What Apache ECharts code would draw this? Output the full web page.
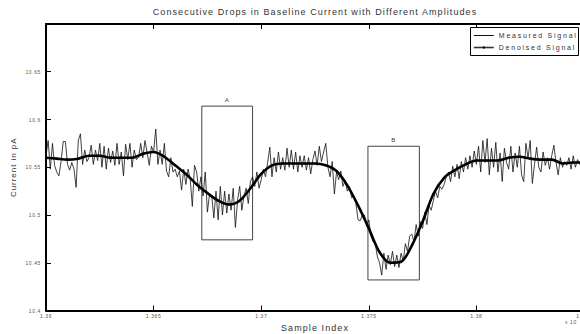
<!DOCTYPE html>
<html>
<head>
<meta charset="utf-8">
<script src="https://cdn.jsdelivr.net/npm/echarts@6.0.0/dist/echarts.min.js"></script>
<style>
  html, body { margin: 0; padding: 0; background: #fff; }
  #chart { width: 580px; height: 334px; }
  /* matlab-like spaced lettering */
  #chart text { letter-spacing: 0.12em; }
  /* legend text (7px) is spread wider in the original */
  #chart text[style*="7px"] { letter-spacing: 0.25em; }
</style>
</head>
<body>
<div id="chart"></div>
<script>
// sample index runs from 13600 to 13850 (shown as x 10^4)
var sampleStart = 13600;
var sampleEnd = 13850;
var xTickStep = 50;

// measured signal, one value per sample
var measured = [
  10.562, 10.578, 10.548, 10.575, 10.552,
  10.545, 10.541, 10.556, 10.577, 10.577,
  10.553, 10.547, 10.555, 10.548, 10.529,
  10.578, 10.585, 10.553, 10.568, 10.556,
  10.560, 10.573, 10.553, 10.568, 10.557,
  10.575, 10.550, 10.572, 10.548, 10.570,
  10.555, 10.567, 10.552, 10.575, 10.553,
  10.566, 10.541, 10.574, 10.558, 10.575,
  10.550, 10.568, 10.558, 10.560, 10.575,
  10.560, 10.578, 10.565, 10.552, 10.572,
  10.566, 10.590, 10.553, 10.568, 10.553,
  10.575, 10.546, 10.540, 10.560, 10.545,
  10.548, 10.540, 10.546, 10.526, 10.548,
  10.532, 10.548, 10.538, 10.509, 10.552,
  10.545, 10.525, 10.540, 10.520, 10.545,
  10.503, 10.522, 10.520, 10.497, 10.525,
  10.495, 10.530, 10.500, 10.525, 10.502,
  10.522, 10.505, 10.528, 10.487, 10.515,
  10.530, 10.505, 10.520, 10.528, 10.512,
  10.535, 10.540, 10.530, 10.545, 10.528,
  10.537, 10.548, 10.540, 10.555, 10.571,
  10.540, 10.560, 10.545, 10.566, 10.548,
  10.560, 10.547, 10.570, 10.550, 10.568,
  10.548, 10.566, 10.545, 10.562, 10.550,
  10.562, 10.547, 10.560, 10.543, 10.558,
  10.567, 10.552, 10.572, 10.556, 10.566,
  10.575, 10.550, 10.540, 10.556, 10.522,
  10.545, 10.537, 10.546, 10.530, 10.536,
  10.525, 10.530, 10.518, 10.520, 10.512,
  10.495, 10.494, 10.500, 10.500, 10.488,
  10.495, 10.478, 10.472, 10.470, 10.456,
  10.450, 10.437, 10.460, 10.443, 10.458,
  10.448, 10.462, 10.446, 10.458, 10.445,
  10.460, 10.452, 10.470, 10.462, 10.478,
  10.480, 10.472, 10.490, 10.478, 10.493,
  10.486, 10.503, 10.490, 10.510, 10.505,
  10.515, 10.525, 10.518, 10.530, 10.527,
  10.532, 10.540, 10.545, 10.535, 10.551,
  10.540, 10.553, 10.538, 10.556, 10.545,
  10.560, 10.548, 10.562, 10.550, 10.567,
  10.553, 10.572, 10.545, 10.578, 10.555,
  10.580, 10.542, 10.570, 10.550, 10.576,
  10.545, 10.565, 10.535, 10.570, 10.555,
  10.548, 10.572, 10.545, 10.565, 10.550,
  10.572, 10.542, 10.535, 10.575, 10.560,
  10.578, 10.533, 10.553, 10.571, 10.550,
  10.545, 10.566, 10.552, 10.560, 10.548,
  10.562, 10.573, 10.555, 10.542, 10.560,
  10.550, 10.556, 10.552, 10.560, 10.548,
  10.562, 10.550, 10.558, 10.553, 10.557,
  10.555
];

// denoised signal, read every 5 samples
var denoisedStep = 5;
var denoised = [
  10.560, 10.559, 10.558, 10.559, 10.562, 10.562, 10.560, 10.560, 10.560, 10.564,
  10.566, 10.561, 10.552, 10.543, 10.532, 10.523, 10.515, 10.511, 10.515, 10.528,
  10.543, 10.552, 10.554, 10.554, 10.554, 10.554, 10.552, 10.546, 10.531, 10.510,
  10.486, 10.461, 10.450, 10.451, 10.468, 10.493, 10.522, 10.539, 10.547, 10.553,
  10.557, 10.557, 10.557, 10.560, 10.561, 10.559, 10.558, 10.558, 10.554, 10.555,
  10.555
];

// boxes: [name, xFrom, xTo, yLow, yHigh]
var boxA = ['A', 13672.4, 13696, 10.474, 10.614];
var boxB = ['B', 13749.6, 13773.5, 10.432, 10.572];

var yMin = 10.4;
var yMax = 10.7;
var yStep = 0.05;

var measuredData = measured.map(function (v, i) {
  return [sampleStart + i, v];
});
var denoisedData = denoised.map(function (v, i) {
  return [sampleStart + i * denoisedStep, v];
});

function boxArea(b) {
  return [
    { name: b[0], xAxis: b[1], yAxis: b[4] },
    { xAxis: b[2], yAxis: b[3] },
  ];
}

var fontFam = 'Liberation Sans, Arial, sans-serif';

var option = {
  animation: false,
  backgroundColor: '#fff',
  title: {
    text: 'Consecutive Drops in Baseline Current with Different Amplitudes',
    left: 315,
    top: 7,
    textAlign: 'center',
    padding: 0,
    textStyle: {
      fontSize: 9,
      fontWeight: 'normal',
      color: '#333',
      fontFamily: fontFam,
    },
  },
  legend: {
    left: 473,
    top: 32,
    orient: 'vertical',
    itemWidth: 20,
    itemHeight: 3,
    itemGap: 5,
    padding: 0,
    z: 5,
    textStyle: {
      fontSize: 7,
      color: '#333',
      fontFamily: fontFam,
    },
    data: [
      {
        name: 'Measured Signal',
        itemStyle: { opacity: 0 },
        lineStyle: { width: 1, color: '#111' },
      },
      {
        name: 'Denoised Signal',
        itemStyle: { color: '#000' },
        lineStyle: { width: 1.6, color: '#333' },
      },
    ],
  },
  grid: {
    left: 46,
    top: 24,
    width: 538,
    bottom: 23.5,
    containLabel: false,
    outerBoundsMode: 'none',
  },
  xAxis: [
    {
      type: 'value',
      min: sampleStart,
      max: sampleEnd,
      interval: xTickStep,
      name: 'Sample Index',
      nameLocation: 'middle',
      nameGap: 12,
      nameTextStyle: { fontSize: 9, color: '#333', fontFamily: fontFam },
      axisLine: { show: true, lineStyle: { color: '#000', width: 2 } },
      axisTick: { show: true, inside: true, length: 5, lineStyle: { color: '#000', width: 1 } },
      axisLabel: {
        fontSize: 5,
        color: '#555',
        margin: 3,
        showMaxLabel: true,
        fontFamily: fontFam,
        formatter: function (v) {
          return String(+(v / 10000).toFixed(4));
        },
      },
      splitLine: { show: false },
    },
    {
      type: 'value',
      position: 'top',
      min: sampleStart,
      max: sampleEnd,
      interval: xTickStep,
      axisLine: { show: true, lineStyle: { color: '#000', width: 2 } },
      axisTick: { show: true, inside: true, length: 5, lineStyle: { color: '#000', width: 1 } },
      axisLabel: { show: false },
      splitLine: { show: false },
    },
  ],
  yAxis: {
    type: 'value',
    min: yMin,
    max: yMax,
    interval: yStep,
    name: 'Current in pA',
    nameLocation: 'middle',
    nameGap: 26,
    nameTextStyle: { fontSize: 8, color: '#333', fontFamily: fontFam },
    axisLine: { show: true, lineStyle: { color: '#000', width: 2 } },
    axisTick: { show: true, inside: true, length: 5, lineStyle: { color: '#000', width: 1 } },
    axisLabel: {
      fontSize: 5,
      color: '#555',
      margin: 5,
      showMaxLabel: false,
      fontFamily: fontFam,
    },
    splitLine: { show: false },
  },
  graphic: [
    // legend frame
    {
      type: 'rect',
      z: 4,
      shape: { x: 470.5, y: 27.5, width: 108, height: 28 },
      style: { fill: '#fff', stroke: '#000', lineWidth: 1 },
    },
    {
      type: 'text',
      left: 565,
      top: 319,
      style: { text: 'x 10', fontSize: 5, fill: '#555', fontFamily: fontFam },
    },
  ],
  series: [
    {
      name: 'Measured Signal',
      type: 'line',
      data: measuredData,
      symbol: 'none',
      lineStyle: { color: '#111', width: 0.8 },
      itemStyle: { color: '#111' },
      z: 2,
      markArea: {
        silent: true,
        itemStyle: {
          color: 'rgba(0,0,0,0)',
          borderColor: '#444',
          borderWidth: 1,
        },
        label: {
          show: true,
          position: 'top',
          distance: 3,
          formatter: '{b}',
          fontSize: 6,
          color: '#444',
          fontFamily: fontFam,
        },
        data: [boxArea(boxA), boxArea(boxB)],
      },
    },
    {
      name: 'Denoised Signal',
      type: 'line',
      data: denoisedData,
      smooth: 0.3,
      symbol: 'circle',
      symbolSize: 2,
      showSymbol: true,
      lineStyle: { color: '#000', width: 2.6 },
      itemStyle: { color: '#000' },
      z: 3,
    },
  ],
};

var chart = echarts.init(document.getElementById('chart'), null, { renderer: 'svg' });
chart.setOption(option);
</script>
</body>
</html>
